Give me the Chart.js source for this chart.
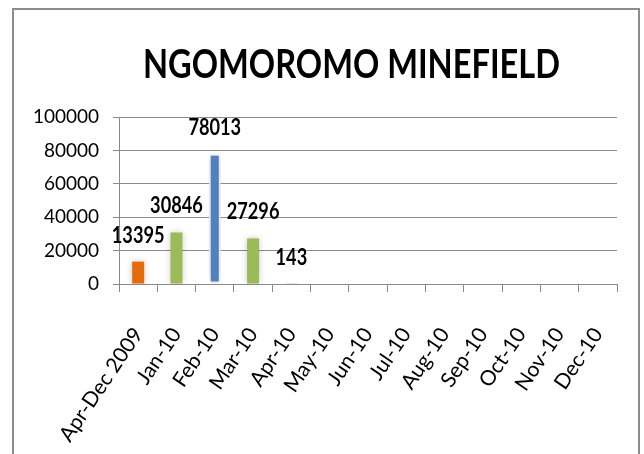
<!DOCTYPE html>
<html>
<head>
<meta charset="utf-8">
<script src="https://cdn.jsdelivr.net/npm/chart.js@4"></script>
<style>
  html, body { margin: 0; padding: 0; background: #fff; overflow: hidden; }
  #wrap { position: relative; width: 644px; height: 454px; }
  #frame { position: absolute; left: 12px; top: 8px; width: 628px; height: 520px;
           border: 2px solid #8c8c8c; box-sizing: border-box; pointer-events: none; }
  canvas { position: absolute; left: 0; top: 0; }
</style>
</head>
<body>
<div id="wrap">
  <canvas id="mineChart" width="644" height="454"></canvas>
  <div id="frame"></div>
</div>
<script>
// chart data
const chartTitle = 'NGOMOROMO MINEFIELD';
const categories = ['Apr-Dec 2009', 'Jan-10', 'Feb-10', 'Mar-10', 'Apr-10', 'May-10', 'Jun-10',
                    'Jul-10', 'Aug-10', 'Sep-10', 'Oct-10', 'Nov-10', 'Dec-10'];
const values = [13395, 30846, 78013, 27296, 143, null, null, null, null, null, null, null, null];
const barColors = ['#E46C0A', '#9BBB59', '#4F81BD', '#9BBB59', '#9BBB59', '#9BBB59', '#9BBB59',
                   '#9BBB59', '#9BBB59', '#9BBB59', '#9BBB59', '#9BBB59', '#9BBB59'];
const yTicks = [0, 20000, 40000, 60000, 80000, 100000];

const gridColor = '#8a8a8a';

// soft halo round the bars
const barShadow = {
  id: 'barShadow',
  beforeDatasetsDraw(chart) {
    const ctx = chart.ctx;
    ctx.save();
    ctx.shadowColor = 'rgba(0,0,0,0.22)';
    ctx.shadowBlur = 6;
  },
  afterDatasetsDraw(chart) {
    chart.ctx.restore();
  }
};

// value labels above the bars (narrow bold digits)
const valueLabels = {
  id: 'valueLabels',
  afterDatasetsDraw(chart) {
    const ctx = chart.ctx;
    const meta = chart.getDatasetMeta(0);
    ctx.save();
    ctx.font = 'bold 23px Lato';
    ctx.fillStyle = '#000';
    ctx.textAlign = 'center';
    ctx.textBaseline = 'alphabetic';
    meta.data.forEach((bar, i) => {
      if (values[i] == null) return;
      ctx.save();
      ctx.translate(bar.x, bar.y - 19);
      ctx.scale(0.79, 1);
      ctx.fillText(String(values[i]), 0, 0);
      ctx.restore();
    });
    ctx.restore();
  }
};

// condensed title
const titlePlugin = {
  id: 'condensedTitle',
  afterDraw(chart) {
    const ctx = chart.ctx;
    ctx.save();
    ctx.font = 'bold 41px Lato';
    ctx.fillStyle = '#000';
    ctx.textAlign = 'center';
    ctx.textBaseline = 'alphabetic';
    const w = ctx.measureText(chartTitle).width;
    ctx.translate(351.5, 78);
    ctx.scale(417 / w, 1);
    ctx.fillText(chartTitle, 0, 0);
    ctx.restore();
  }
};

new Chart(document.getElementById('mineChart').getContext('2d'), {
  type: 'bar',
  data: {
    labels: categories,
    datasets: [{
      data: values,
      backgroundColor: barColors,
      borderColor: values.map((v, i) => i === 2 ? '#ffffff' : 'rgba(0,0,0,0)'),
      borderWidth: values.map((v, i) => i === 2 ? 2 : 0),
      borderSkipped: false,
      categoryPercentage: 1,
      barPercentage: 0.313
    }]
  },
  options: {
    responsive: false,
    animation: false,
    devicePixelRatio: 1,
    layout: { padding: { top: 117, right: 27, left: 0, bottom: 0 } },
    plugins: {
      legend: { display: false },
      title: { display: false },
      tooltip: { enabled: false }
    },
    scales: {
      x: {
        afterFit(scale) {
          scale.height = 170;
          scale.paddingLeft = 0;
          scale.paddingRight = 0;
        },
        grid: { drawOnChartArea: false, color: gridColor, tickLength: 8 },
        border: { color: gridColor },
        ticks: {
          color: '#000',
          font: { family: 'Lato', size: 21 },
          minRotation: 56,
          maxRotation: 56,
          autoSkip: false,
          padding: 31
        }
      },
      y: {
        min: 0,
        max: 100000,
        afterFit(scale) { scale.width = 119; },
        afterBuildTicks(scale) { scale.ticks = yTicks.map(v => ({ value: v })); },
        grid: { color: gridColor, tickLength: 6 },
        border: { color: gridColor },
        ticks: {
          color: '#000',
          font: { family: 'Lato', size: 19 },
          padding: 14,
          callback: v => String(v)
        }
      }
    }
  },
  plugins: [barShadow, valueLabels, titlePlugin]
});
</script>
</body>
</html>
